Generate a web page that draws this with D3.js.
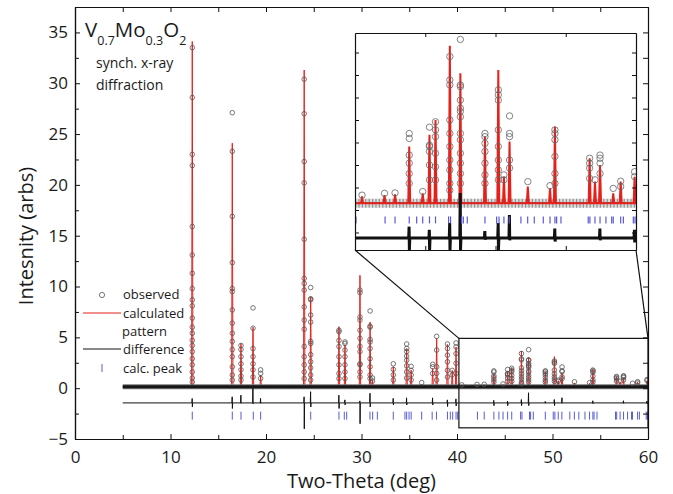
<!DOCTYPE html>
<html>
<head>
<meta charset="utf-8">
<script src="https://cdn.jsdelivr.net/npm/d3@7"></script>
<style>
  body { margin: 0; background: #fff; }
  text { font-family: "Open Sans", sans-serif; fill: #1a1a1a; }
</style>
</head>
<body>
<svg id="chart" width="673" height="494"></svg>
<script>
// peaks: position (deg), calculated height, observed points
var peakPos = [12.28, 16.47, 17.38, 18.64, 19.44, 24.0, 24.68, 27.64, 28.27, 29.84, 30.9, 31.15,
  33.33, 34.73, 35.2, 36.3, 37.45, 37.87, 39.0, 39.5, 39.9, 40.5, 42.1, 42.85, 43.86, 44.82,
  45.3, 45.73, 46.75, 47.5, 49.25, 50.2, 50.6, 51.0, 52.3, 53.88, 54.23, 56.7, 57.08, 57.44,
  58.38, 58.91, 59.9]
var peakCalc = [34.1, 24.1, 4.4, 6.0, 1.3, 31.3, 9.0, 6.05, 4.25, 11.1, 6.5, 0.8,
  2.1, 3.9, 1.8, 0.4, 1.95, 4.9, 4.3, 1.75, 4.05, 0.3, 0.33, 0.35, 1.41, 0.37,
  1.67, 2.0, 3.65, 3.04, 1.63, 3.11, 0.74, 1.52, 0.52, 0.48, 1.85, 1.15, 0.63, 1.0,
  0.37, 0.63, 0.74]
var peakObs = [
  [33.5, 28.6, 23.0, 21.9, 15.9, 13.1, 11.3, 9.8, 8.7, 8.1, 6.9, 6.0, 5.4, 4.7, 4.2, 3.6, 2.9, 2.3, 1.6, 1.0, 0.6],
  [27.1, 23.3, 16.9, 12.35, 9.8, 9.5, 7.7, 6.4, 5.4, 4.6, 3.8, 3.1, 2.1, 1.3, 0.8],
  [4.2, 3.8, 3.1, 2.4, 1.8, 1.2, 0.8],
  [7.9, 5.9, 3.9, 3.1, 2.4, 1.8, 1.1],
  [1.8, 1.45, 0.95],
  [30.4, 27.0, 22.3, 20.2, 14.65, 10.8, 10.3, 9.65, 8.0, 6.7, 5.8, 4.1, 3.1, 2.3, 1.6, 0.95],
  [9.9, 8.8, 8.7, 7.2, 6.5, 4.6, 4.4, 3.3, 2.6, 2.0, 1.3, 0.8],
  [5.7, 5.55, 4.7, 4.1, 3.1, 2.3, 1.45, 0.95],
  [4.55, 4.4, 3.75, 3.1, 2.3, 1.6, 0.95],
  [9.65, 9.4, 7.0, 6.7, 5.7, 4.9, 4.1, 3.6, 2.4, 2.3, 1.6, 1.1],
  [7.6, 6.1, 6.0, 4.8, 4.55, 3.9, 2.9, 2.1, 1.3, 0.95],
  [1.0, 0.7],
  [2.4, 1.85, 1.3, 0.8],
  [4.35, 3.9, 3.6, 3.15, 2.75, 2.2, 1.6, 1.0],
  [2.15, 1.75, 1.3, 0.8],
  [0.55],
  [2.35, 2.1, 1.45],
  [5.1, 3.75, 2.1, 1.45, 0.8],
  [4.35, 3.9, 3.25, 2.6, 1.75, 1.1],
  [1.75, 1.3],
  [4.45, 4.05, 3.4, 2.45, 1.45],
  [0.33],
  [0.37],
  [0.38],
  [1.70, 1.59, 1.22, 1.04, 0.81, 0.59],
  [0.41],
  [1.84, 1.44, 1.41, 1.30, 1.00, 0.67],
  [1.96, 1.78, 1.63, 1.26, 0.96, 0.67],
  [3.41, 2.89, 2.78, 2.0, 1.70, 1.41, 1.11, 0.89, 0.59, 0.44],
  [3.79, 2.78, 2.74, 2.44, 2.26, 2.19, 2.07, 1.70, 1.56, 1.26, 1.04, 0.81, 0.59],
  [1.70, 1.63, 1.48, 1.30, 1.04, 0.78, 0.59],
  [2.67, 2.56, 2.44, 1.78, 1.41, 1.11, 0.89, 0.67],
  [0.78, 0.67],
  [2.09, 1.70, 1.63, 1.11, 0.93],
  [0.63],
  [0.54],
  [1.78, 1.70, 1.56, 1.19, 0.81, 0.59],
  [1.15, 1.04, 0.93, 0.70],
  [0.67],
  [1.22, 1.15, 1.04, 0.81],
  [0.48],
  [0.64, 0.52],
  [0.85, 0.74]
]
var baseLevel = 0.15
var scanRange = [5, 60]

// difference curve spikes (up / down from its own zero line)
var diffPos = [12.28, 16.47, 17.38, 18.64, 19.44, 24.0, 24.68, 27.64, 28.27, 29.84, 30.9, 33.33,
  34.73, 37.45, 39.0, 39.9, 43.86, 45.3, 46.75, 47.5, 49.25, 50.2, 51.0, 54.23, 57.44, 59.9]
var diffUp = [0.43, 0.6, 0.76, 1.42, 0.45, 0.6, 1.1, 0.76, 0.3, 0.2, 0.95, 0.45,
  0.5, 0.5, 0.3, 0.4, 0.25, 0.18, 0.33, 1.0, 0.15, 0.33, 0.51, 0.21, 0.21, 0.18]
var diffDown = [-0.4, -0.55, -0.05, -0.1, -0.05, -2.55, -0.4, -0.55, -0.2, -2.05, -0.4, -0.2,
  -0.2, -0.2, -0.35, -0.3, -0.27, -0.27, -0.27, -0.27, -0.04, -0.27, -0.05, -0.08, -0.05, -0.1]

// calculated reflection markers
var tickPos = [12.28, 16.47, 17.38, 18.67, 19.44, 24.68, 27.64, 28.2, 28.45, 30.89, 31.17, 31.66,
  33.33, 34.55, 34.73, 34.98, 35.2, 36.3, 37.4, 37.85, 39.0, 39.3, 39.55, 39.9,
  40.07, 42.14, 42.85, 43.86, 44.39, 44.82, 45.3, 45.73, 46.66, 46.8, 47.59, 47.71, 47.99,
  49.25, 50.08, 50.25, 50.6, 50.98, 51.81, 52.29, 52.76, 53.4, 53.88, 54.23, 54.35, 54.66,
  56.6, 56.72, 57.08, 57.44, 57.86, 58.27, 58.38, 58.91, 59.1, 59.81, 59.93]

var xTicks = [0, 10, 20, 30, 40, 50, 60]
var xMinor = [5, 15, 25, 35, 45, 55]
var yTicks = [-5, 0, 5, 10, 15, 20, 25, 30, 35]
var yMinor = [-2.5, 2.5, 7.5, 12.5, 17.5, 22.5, 27.5, 32.5, 37.5]
var insetXTicks = [45, 50, 55]
var insetYTicks = [-0.5, 0, 0.5, 1, 1.5, 2, 2.5, 3, 3.5]

var red = "#e5211c"
var blue = "#5a5ad6"
var gray = "#555"

var svg = d3.select("#chart")

var margin = { top: 7, right: 25, bottom: 55, left: 75 }
var width = 673
var height = 494

var x = d3.scaleLinear().domain([0, 60]).range([margin.left, width - margin.right])
var y = d3.scaleLinear().domain([-5, 37.5]).range([height - margin.bottom, margin.top])

// inset scales
var ix = d3.scaleLinear().domain([40, 60]).range([355, 636])
var iy = d3.scaleLinear().domain([-0.889, 3.933]).range([250, 33])

// builds a path from the peak list
function calcPoints(w) {
  var pts = [[scanRange[0], baseLevel]]
  peakPos.forEach(function (p, i) {
    pts.push([p - w, baseLevel], [p, peakCalc[i]], [p + w, baseLevel])
  })
  pts.push([scanRange[1], baseLevel])
  return pts
}
function diffPoints(offset) {
  var pts = [[scanRange[0], offset]]
  diffPos.forEach(function (p, i) {
    pts.push([p - 0.04, offset], [p - 0.01, offset + diffUp[i]], [p + 0.01, offset + diffDown[i]], [p + 0.04, offset])
  })
  pts.push([scanRange[1], offset])
  return pts
}
var obsPoints = []
peakPos.forEach(function (p, i) {
  peakObs[i].forEach(function (v) { obsPoints.push([p, v]) })
})

var defs = svg.append("defs")
defs.append("clipPath").attr("id", "clipMain").append("rect")
  .attr("x", margin.left).attr("y", margin.top)
  .attr("width", x(60) - x(0)).attr("height", y(-5) - y(37.5))
defs.append("clipPath").attr("id", "clipInset").append("rect")
  .attr("x", 355).attr("y", 33).attr("width", 281).attr("height", 217)

// ---- main plot
var main = svg.append("g").attr("clip-path", "url(#clipMain)")
var lineMain = d3.line().x(function (d) { return x(d[0]) }).y(function (d) { return y(d[1]) })
var baseLine = [[scanRange[0], baseLevel], [scanRange[1], baseLevel]]

main.append("path").attr("d", lineMain(calcPoints(0.07)))
  .attr("stroke", red).attr("stroke-width", 1).attr("fill", "none")

// dense band of observed points along the background
main.append("path").attr("d", lineMain(baseLine))
  .attr("stroke", "#777").attr("stroke-width", 5).attr("fill", "none")
main.append("path").attr("d", lineMain(baseLine))
  .attr("stroke", "#161616").attr("stroke-width", 3).attr("fill", "none")

main.selectAll("circle.obs").data(obsPoints).enter().append("circle")
  .attr("cx", function (d) { return x(d[0]) }).attr("cy", function (d) { return y(d[1]) })
  .attr("r", 2.3).attr("fill", "none").attr("stroke", gray).attr("stroke-width", 0.8)

main.append("path").attr("d", lineMain(diffPoints(-1.45)))
  .attr("stroke", "#111").attr("stroke-width", 1).attr("fill", "none")

main.selectAll("line.tick").data(tickPos).enter().append("line")
  .attr("x1", function (d) { return x(d) }).attr("x2", function (d) { return x(d) })
  .attr("y1", y(-2.7) - 4).attr("y2", y(-2.7) + 4)
  .attr("stroke", blue).attr("stroke-width", 1)

// zoom box and connectors
svg.append("rect")
  .attr("x", x(40.2)).attr("y", y(4.9))
  .attr("width", x(60) - x(40.2)).attr("height", y(-3.9) - y(4.9))
  .attr("fill", "none").attr("stroke", "#111").attr("stroke-width", 1.2)
svg.append("line").attr("x1", ix(40)).attr("y1", iy(-0.889)).attr("x2", x(40.2)).attr("y2", y(4.9))
  .attr("stroke", "#111").attr("stroke-width", 1.2)
svg.append("line").attr("x1", ix(60)).attr("y1", iy(-0.889)).attr("x2", x(60)).attr("y2", y(4.9))
  .attr("stroke", "#111").attr("stroke-width", 1.2)

// ---- main axes (inward ticks)
function styleAxis(g) {
  g.selectAll("path.domain").attr("stroke", "#111").attr("stroke-width", 1.2)
  g.selectAll(".tick line").attr("stroke", "#111")
  g.selectAll("text").style("font-family", "Open Sans").style("font-size", "17px").attr("fill", "#1a1a1a")
}
svg.append("g").attr("transform", "translate(0," + y(-5) + ")")
  .call(d3.axisBottom(x).tickValues(xTicks).tickSizeInner(-5).tickSizeOuter(0).tickPadding(12)).call(styleAxis)
svg.append("g").attr("transform", "translate(0," + y(-5) + ")")
  .call(d3.axisBottom(x).tickValues(xMinor).tickSizeInner(-4).tickSizeOuter(0).tickFormat("")).call(styleAxis)
svg.append("g").attr("transform", "translate(0," + y(37.5) + ")")
  .call(d3.axisTop(x).tickValues(xTicks.concat(xMinor)).tickSizeInner(-5).tickSizeOuter(0).tickFormat("")).call(styleAxis)
svg.append("g").attr("transform", "translate(" + x(0) + ",0)")
  .call(d3.axisLeft(y).tickValues(yTicks).tickSizeInner(-5).tickSizeOuter(0).tickPadding(7)).call(styleAxis)
svg.append("g").attr("transform", "translate(" + x(0) + ",0)")
  .call(d3.axisLeft(y).tickValues(yMinor).tickSizeInner(-4).tickSizeOuter(0).tickFormat("")).call(styleAxis)
svg.append("g").attr("transform", "translate(" + x(60) + ",0)")
  .call(d3.axisRight(y).tickValues(yTicks.concat(yMinor)).tickSizeInner(-5).tickSizeOuter(0).tickFormat("")).call(styleAxis)

// axis titles
svg.append("text").attr("x", (x(0) + x(60)) / 2).attr("y", 488)
  .attr("text-anchor", "middle").style("font-size", "20px").text("Two-Theta (deg)")
svg.append("text").attr("transform", "translate(33,236) rotate(-90)")
  .attr("text-anchor", "middle").style("font-size", "20px").text("Intesnity (arbs)")

// compound label
var title = svg.append("text").attr("x", 85).attr("y", 37).style("font-size", "20.5px")
title.append("tspan").text("V")
title.append("tspan").attr("dy", 8).style("font-size", "12.5px").text("0.7")
title.append("tspan").attr("dy", -8).text("Mo")
title.append("tspan").attr("dy", 8).style("font-size", "12.5px").text("0.3")
title.append("tspan").attr("dy", -8).text("O")
title.append("tspan").attr("dy", 8).style("font-size", "12.5px").text("2")
svg.append("text").attr("x", 96).attr("y", 68).style("font-size", "14px").text("synch. x-ray")
svg.append("text").attr("x", 96).attr("y", 90).style("font-size", "14px").text("diffraction")

// legend
var leg = svg.append("g")
leg.append("circle").attr("cx", 102).attr("cy", 295).attr("r", 2.6)
  .attr("fill", "none").attr("stroke", gray).attr("stroke-width", 0.8)
leg.append("text").attr("x", 123).attr("y", 299).style("font-size", "13px").text("observed")
leg.append("line").attr("x1", 83).attr("x2", 121).attr("y1", 313).attr("y2", 313).attr("stroke", red)
leg.append("text").attr("x", 123).attr("y", 318).style("font-size", "13px").text("calculated")
leg.append("text").attr("x", 122).attr("y", 336).style("font-size", "13px").text("pattern")
leg.append("line").attr("x1", 83).attr("x2", 121).attr("y1", 349).attr("y2", 349).attr("stroke", "#111")
leg.append("text").attr("x", 123).attr("y", 354).style("font-size", "13px").text("difference")
leg.append("line").attr("x1", 102).attr("x2", 102).attr("y1", 364).attr("y2", 372).attr("stroke", blue)
leg.append("text").attr("x", 123).attr("y", 373).style("font-size", "13px").text("calc. peak")

// ---- inset
svg.append("rect").attr("x", 355).attr("y", 33).attr("width", 281).attr("height", 217).attr("fill", "#fff")
var inset = svg.append("g").attr("clip-path", "url(#clipInset)")
var lineInset = d3.line().x(function (d) { return ix(d[0]) }).y(function (d) { return iy(d[1]) })
var insetBase = [[40, baseLevel], [60, baseLevel]]

inset.append("path").attr("d", lineInset(insetBase))
  .attr("stroke", "#9a9a9a").attr("stroke-width", 9).attr("stroke-opacity", 0.35).attr("fill", "none")
inset.append("path").attr("d", lineInset(insetBase))
  .attr("stroke", "#3a3a3a").attr("stroke-width", 9).attr("stroke-dasharray", "1.2 2.2")
  .attr("stroke-opacity", 0.45).attr("fill", "none")
inset.append("path").attr("d", lineInset(insetBase))
  .attr("stroke", "#222").attr("stroke-width", 1.5).attr("fill", "none")
inset.append("path").attr("d", lineInset(calcPoints(0.07)))
  .attr("stroke", red).attr("stroke-width", 2).attr("fill", "none")
inset.selectAll("circle.obs").data(obsPoints.filter(function (d) { return d[0] >= 40 })).enter().append("circle")
  .attr("cx", function (d) { return ix(d[0]) }).attr("cy", function (d) { return iy(d[1]) })
  .attr("r", 3.2).attr("fill", "none").attr("stroke", "#666").attr("stroke-width", 0.8)
inset.append("path").attr("d", lineInset(diffPoints(-0.62)))
  .attr("stroke", "#111").attr("stroke-width", 3).attr("fill", "none")
inset.selectAll("line.tick").data(tickPos.filter(function (d) { return d >= 40 })).enter().append("line")
  .attr("x1", function (d) { return ix(d) }).attr("x2", function (d) { return ix(d) })
  .attr("y1", iy(-0.22) - 3.5).attr("y2", iy(-0.22) + 3.5)
  .attr("stroke", blue).attr("stroke-width", 1.2)

function styleInset(g) {
  g.selectAll("path.domain").attr("stroke", "#111").attr("stroke-width", 1.2)
  g.selectAll(".tick line").attr("stroke", "#111")
}
svg.append("g").attr("transform", "translate(0,250)")
  .call(d3.axisBottom(ix).tickValues(insetXTicks).tickSizeInner(-4).tickSizeOuter(0).tickFormat("")).call(styleInset)
svg.append("g").attr("transform", "translate(0,33)")
  .call(d3.axisTop(ix).tickValues(insetXTicks).tickSizeInner(-4).tickSizeOuter(0).tickFormat("")).call(styleInset)
svg.append("g").attr("transform", "translate(355,0)")
  .call(d3.axisLeft(iy).tickValues(insetYTicks).tickSizeInner(-4).tickSizeOuter(0).tickFormat("")).call(styleInset)
svg.append("g").attr("transform", "translate(636,0)")
  .call(d3.axisRight(iy).tickValues(insetYTicks).tickSizeInner(-4).tickSizeOuter(0).tickFormat("")).call(styleInset)
</script>
</body>
</html>
